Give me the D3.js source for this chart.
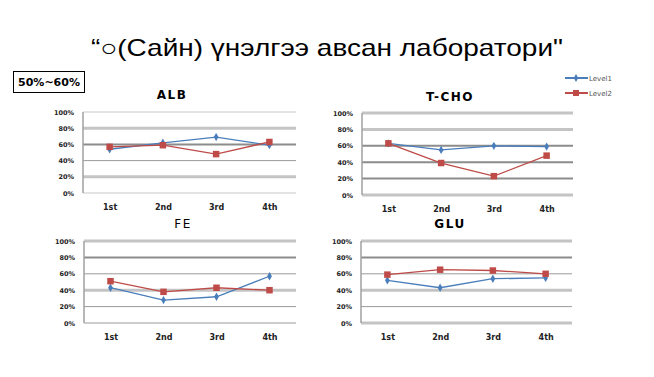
<!DOCTYPE html>
<html><head><meta charset="utf-8">
<script src="https://cdn.jsdelivr.net/npm/d3@7"></script>
<style>body{margin:0;background:#fff}svg{display:block}</style>
</head><body>
<svg id="c" width="654" height="377"></svg>
<script>
const categories = ["1st", "2nd", "3rd", "4th"];
const tickLabels = ["0%", "20%", "40%", "60%", "80%", "100%"];
const seriesNames = ["Level1", "Level2"];
const chartTitles = ["ALB", "T-CHO", "FE", "GLU"];
const albLevel1 = [54, 62, 69, 59];
const albLevel2 = [57, 59, 48, 63];
const tchoLevel1 = [63, 55, 60, 59];
const tchoLevel2 = [63, 39, 23, 48];
const feLevel1 = [43, 28, 32, 57];
const feLevel2 = [51, 38, 43, 40];
const gluLevel1 = [52, 43, 54, 55];
const gluLevel2 = [59, 65, 64, 60];

// gridline styles (0%..100%) per chart: [colour, width]
const L = ["#c4c4c4", 3], D = ["#8c8c8c", 2], T = ["#9a9a9a", 1], S = ["#c8c8c8", 1];
const gridStyles = [
  [S, L, T, D, L, S],
  [L, D, D, D, L, L],
  [T, T, L, T, D, L],
  [L, T, L, T, D, L]
];

const panels = [
  {x0: 83, x1: 296, y0: 112, y1: 193, titleX: 172, titleY: 99, bold: true, l1: albLevel1, l2: albLevel2},
  {x0: 362, x1: 573, y0: 113, y1: 195, titleX: 450, titleY: 101, bold: true, l1: tchoLevel1, l2: tchoLevel2},
  {x0: 84, x1: 296, y0: 241, y1: 323, titleX: 183, titleY: 228, bold: false, l1: feLevel1, l2: feLevel2},
  {x0: 361, x1: 572, y0: 241, y1: 323, titleX: 450, titleY: 228, bold: true, l1: gluLevel1, l2: gluLevel2}
];

const blue = "#4a7ebb", red = "#be4b48";
const svg = d3.select("#c");

svg.append("text").attr("x", 327).attr("y", 56).attr("text-anchor", "middle")
  .attr("font-family", "Liberation Sans, Arial, sans-serif").attr("font-size", 24)
  .attr("textLength", 472).attr("lengthAdjust", "spacingAndGlyphs")
  .attr("fill", "#000").text("“○(Сайн) үнэлгээ авсан лаборатори\"");

svg.append("rect").attr("x", 13.5).attr("y", 71.5).attr("width", 71).attr("height", 21)
  .attr("fill", "#fff").attr("stroke", "#000").attr("stroke-width", 1);
svg.append("text").attr("x", 49).attr("y", 86).attr("text-anchor", "middle")
  .attr("font-family", "DejaVu Sans, sans-serif").attr("font-weight", "bold").attr("font-size", 11)
  .text("50%~60%");

// legend
const legend = svg.append("g");
[[78, blue, "diamond"], [93, red, "square"]].forEach(([y, col, sym], i) => {
  legend.append("line").attr("x1", 565).attr("x2", 588).attr("y1", y).attr("y2", y)
    .attr("stroke", col).attr("stroke-width", 2);
  legend.append("path").attr("transform", `translate(576,${y})`)
    .attr("d", d3.symbol(sym === "diamond" ? d3.symbolDiamond : d3.symbolSquare, sym === "diamond" ? 18 : 36)())
    .attr("fill", col);
  legend.append("text").attr("x", 589).attr("y", y + 2.5)
    .attr("font-family", "DejaVu Sans, sans-serif").attr("font-size", 7).attr("fill", "#555")
    .text(seriesNames[i]);
});

panels.forEach((p, idx) => {
  const g = svg.append("g");
  const x = d3.scalePoint().domain(categories).range([p.x0, p.x1]).padding(0.5);
  const y = d3.scaleLinear().domain([0, 100]).range([p.y1, p.y0]);
  const ticks = [0, 20, 40, 60, 80, 100];

  ticks.forEach((t, i) => {
    const st = gridStyles[idx][i];
    g.append("line").attr("x1", p.x0).attr("x2", p.x1)
      .attr("y1", y(t)).attr("y2", y(t)).attr("stroke", st[0]).attr("stroke-width", st[1]);
  });
  g.append("line").attr("x1", p.x0).attr("x2", p.x0).attr("y1", p.y0).attr("y2", p.y1)
    .attr("stroke", "#a0a0a0").attr("stroke-width", 1.5);

  const yAxis = d3.axisLeft(y).tickValues(ticks).tickSize(0).tickPadding(9)
    .tickFormat((d, i) => tickLabels[i]);
  const ya = g.append("g").attr("transform", `translate(${p.x0},0)`).call(yAxis);
  ya.select(".domain").remove();
  ya.selectAll("text").attr("font-family", "DejaVu Sans, sans-serif").attr("font-weight", "bold")
    .attr("font-size", 6.5).attr("fill", "#222");

  const xAxis = d3.axisBottom(x).tickSize(0).tickPadding(11);
  const xa = g.append("g").attr("transform", `translate(0,${p.y1})`).call(xAxis);
  xa.select(".domain").remove();
  xa.selectAll("text").attr("font-family", "DejaVu Sans, sans-serif").attr("font-weight", "bold")
    .attr("font-size", 8).attr("fill", "#222");

  g.append("text").attr("x", p.titleX).attr("y", p.titleY).attr("text-anchor", "middle")
    .attr("font-family", "DejaVu Sans, sans-serif").attr("font-weight", p.bold ? "bold" : "normal")
    .attr("font-size", 12).attr("letter-spacing", 1.5).attr("fill", "#000")
    .text(chartTitles[idx]);

  const line = d3.line().x((d, i) => x(categories[i])).y(d => y(d));
  [[p.l1, blue, d3.symbolDiamond, 20], [p.l2, red, d3.symbolSquare, 42]].forEach(([vals, col, sym, size]) => {
    g.append("path").datum(vals).attr("d", line).attr("fill", "none")
      .attr("stroke", col).attr("stroke-width", 1.3);
    g.selectAll(null).data(vals).enter().append("path")
      .attr("transform", (d, i) => `translate(${x(categories[i])},${y(d)})`)
      .attr("d", d3.symbol(sym, size)()).attr("fill", col);
  });
});
</script>
</body></html>
